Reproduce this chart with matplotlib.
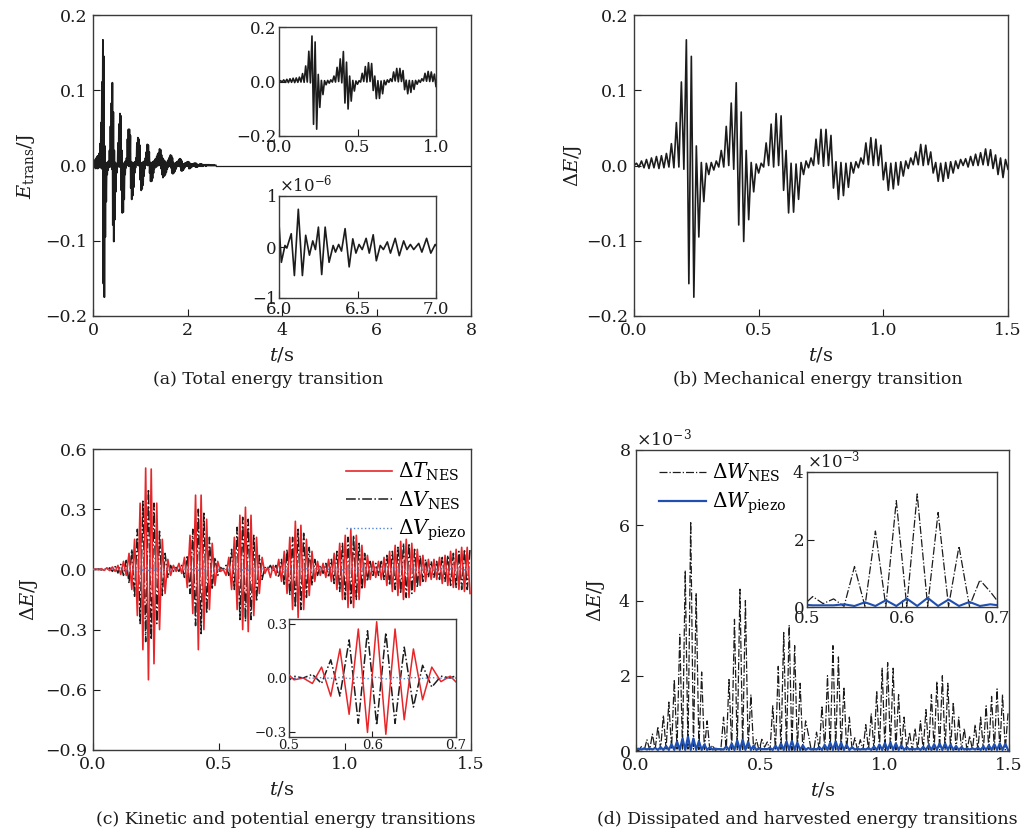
import numpy as np
import matplotlib
matplotlib.use("Agg")
import matplotlib.pyplot as plt
from matplotlib.ticker import FuncFormatter, ScalarFormatter, FixedLocator

plt.rcParams["font.family"] = ["DejaVu Serif"]
plt.rcParams["mathtext.fontset"] = "dejavuserif"
plt.rcParams["axes.unicode_minus"] = True

# ---------------------------------------------------------------------------
# Mechanical energy change dE (J): successive extrema, one every 0.01 s, 0-1.5 s
STEP_MECH = 0.01
DE_MECH = [
    0.000, 0.003, -0.002, 0.006, -0.003, 0.008, -0.004, 0.010, -0.003, 0.012,
    -0.004, 0.013, -0.003, 0.016, -0.002, 0.029, -0.003, 0.057, -0.002, 0.111,
    -0.005, 0.167, -0.157, 0.145, -0.175, 0.026, -0.095, 0.004, -0.048, 0.003,
    -0.012, 0.004, -0.006, 0.006, -0.002, 0.020, -0.002, 0.052, 0.000, 0.083,
    -0.005, 0.110, -0.079, 0.071, -0.101, 0.020, -0.072, 0.004, -0.035, 0.002,
    -0.010, 0.003, -0.002, 0.030, 0.000, 0.055, -0.002, 0.069, 0.000, 0.066,
    -0.033, 0.020, -0.063, 0.003, -0.062, 0.002, -0.045, 0.004, -0.012, 0.006,
    -0.003, 0.010, 0.000, 0.035, 0.002, 0.048, -0.001, 0.048, 0.000, 0.040,
    -0.030, 0.005, -0.045, 0.004, -0.040, 0.003, -0.029, 0.004, -0.010, 0.005,
    -0.003, 0.010, 0.002, 0.030, 0.001, 0.037, 0.000, 0.035, 0.000, 0.027,
    -0.019, 0.004, -0.033, 0.003, -0.031, 0.004, -0.026, 0.005, -0.014, 0.006,
    -0.004, 0.010, 0.001, 0.018, 0.001, 0.028, 0.000, 0.027, 0.001, 0.018,
    -0.010, 0.004, -0.021, 0.003, -0.021, 0.004, -0.017, 0.005, -0.010, 0.006,
    -0.004, 0.008, 0.000, 0.009, -0.002, 0.012, 0.000, 0.015, 0.000, 0.017,
    0.001, 0.022, 0.000, 0.021, -0.004, 0.014, -0.012, 0.010, -0.016, 0.008,
    -0.005,
]
# Continuation of the same record from 1.51 s to 2.60 s (0.01 s spacing)
E_TAIL = [
    -0.014, 0.006, -0.012, 0.004, -0.009, 0.003, -0.005, 0.006, -0.002, 0.008,
    0.000, 0.011, -0.001, 0.014, -0.003, 0.013, -0.010, 0.010, -0.011, 0.004,
    -0.010, 0.002, -0.008, 0.003, -0.005, 0.004, -0.002, 0.005, -0.001, 0.006,
    0.000, 0.008, -0.001, 0.009, -0.002, 0.008, -0.007, 0.006, -0.007, 0.002,
    -0.006, 0.002, -0.004, 0.003, -0.002, 0.003, -0.001, 0.004, 0.000, 0.005,
    -0.001, 0.005, -0.004, 0.004, -0.004, 0.002, -0.003, 0.002, -0.002, 0.002,
    -0.001, 0.002, 0.000, 0.003, -0.001, 0.003, -0.002, 0.003, -0.002, 0.002,
    -0.002, 0.001, -0.001, 0.001, 0.000, 0.002, -0.001, 0.002, -0.001, 0.002,
    -0.001, 0.001, -0.001, 0.001, 0.000, 0.001, 0.000, 0.001, -0.001, 0.001,
    0.000, 0.001, 0.000, 0.001, 0.000, 0.001, 0.000, 0.0005, 0.000, 0.0005,
    0.000, 0.0005, 0.000, 0.0005, 0.000, 0.0005, 0.000, 0.0005, 0.000, 0.000,
]
QUIET_T = [2.61, 8.0]
QUIET_V = [0.0, 0.0]

# Residual total energy between 6 s and 7 s (units of 1e-6 J)
LATE_T = [6.000, 6.015, 6.038, 6.050, 6.078, 6.098, 6.123, 6.149, 6.170, 6.194,
          6.215, 6.232, 6.251, 6.272, 6.294, 6.319, 6.345, 6.360, 6.380, 6.398,
          6.421, 6.447, 6.470, 6.490, 6.510, 6.530, 6.555, 6.575, 6.600, 6.620,
          6.645, 6.665, 6.690, 6.710, 6.740, 6.766, 6.794, 6.815, 6.837, 6.858,
          6.890, 6.910, 6.940, 6.967, 6.995, 7.000]
LATE_V = [0.46, -0.30, 0.03, -0.02, 0.26, -0.56, 0.74, -0.56, 0.23, -0.16,
          0.12, -0.05, 0.39, -0.54, 0.39, -0.30, 0.03, -0.10, 0.05, -0.08,
          0.36, -0.39, 0.16, -0.12, 0.05, -0.05, 0.17, -0.12, 0.24, -0.27,
          0.03, -0.05, 0.10, -0.12, 0.17, -0.17, 0.12, -0.05, 0.05, -0.05,
          0.07, -0.10, 0.17, -0.12, 0.05, 0.03]

# ---------------------------------------------------------------------------
# Kinetic / potential energy changes (J), extrema every 0.011 s
STEP_NES = 0.011
DT_NES = [
    0.000, 0.002, -0.002, 0.004, -0.005, 0.008, -0.006, 0.012, -0.010, 0.020,
    -0.025, 0.040, -0.030, 0.080, -0.100, 0.150, -0.230, 0.330, -0.400, 0.505,
    -0.550, 0.500, -0.470, 0.330, -0.300, 0.150, -0.120, 0.050, -0.030, 0.020,
    -0.010, 0.030, -0.020, 0.060, -0.090, 0.170, -0.220, 0.370, -0.400, 0.370,
    -0.300, 0.250, -0.200, 0.130, -0.080, 0.040, -0.010, 0.000, -0.030, 0.060,
    -0.100, 0.160, -0.200, 0.270, -0.300, 0.310, -0.310, 0.270, -0.230, 0.160,
    -0.120, 0.060, -0.020, 0.010, -0.040, 0.020, -0.030, 0.050, -0.060, 0.090,
    -0.120, 0.160, -0.200, 0.240, -0.240, 0.220, -0.200, 0.150, -0.130, 0.090,
    -0.060, 0.040, -0.030, 0.030, -0.040, 0.050, -0.060, 0.080, -0.100, 0.130,
    -0.150, 0.170, -0.190, 0.200, -0.190, 0.170, -0.150, 0.120, -0.090, 0.070,
    -0.050, 0.040, -0.040, 0.040, -0.050, 0.060, -0.080, 0.090, -0.110, 0.120,
    -0.130, 0.140, -0.150, 0.150, -0.140, 0.130, -0.110, 0.100, -0.080, 0.070,
    -0.060, 0.050, -0.050, 0.050, -0.050, 0.060, -0.070, 0.070, -0.080, 0.090,
    -0.090, 0.100, -0.100, 0.110, -0.110, 0.110, -0.120,
]
DV_NES = [
    0.000, -0.001, 0.002, -0.003, 0.004, -0.006, 0.008, -0.010, 0.014, -0.018,
    0.025, -0.030, 0.045, -0.070, 0.100, -0.140, 0.200, -0.270, 0.340, -0.360,
    0.400, -0.350, 0.330, -0.270, 0.190, -0.130, 0.080, -0.040, 0.020, -0.010,
    0.010, -0.010, 0.020, -0.040, 0.070, -0.120, 0.200, -0.280, 0.300, -0.320,
    0.280, -0.220, 0.160, -0.100, 0.060, -0.030, 0.010, 0.000, 0.020, -0.030,
    0.100, -0.100, 0.210, -0.250, 0.260, -0.260, 0.250, -0.250, 0.170, -0.160,
    0.070, -0.050, 0.010, 0.000, 0.020, -0.010, 0.020, -0.040, 0.050, -0.080,
    0.100, -0.130, 0.160, -0.190, 0.200, -0.200, 0.180, -0.140, 0.110, -0.080,
    0.050, -0.030, 0.020, -0.020, 0.030, -0.040, 0.050, -0.070, 0.090, -0.110,
    0.130, -0.150, 0.160, -0.170, 0.170, -0.150, 0.130, -0.100, 0.080, -0.060,
    0.040, -0.030, 0.030, -0.030, 0.040, -0.050, 0.070, -0.080, 0.090, -0.100,
    0.110, -0.120, 0.130, -0.140, 0.130, -0.120, 0.100, -0.090, 0.070, -0.060,
    0.050, -0.040, 0.040, -0.040, 0.040, -0.050, 0.060, -0.060, 0.070, -0.080,
    0.080, -0.090, 0.090, -0.100, 0.100, -0.100, 0.100,
]
DV_PIEZO = [
    0.000, 0.000, 0.000, 0.000, 0.000, 0.000, 0.000, 0.001, -0.001, 0.001,
    -0.001, 0.002, -0.002, 0.003, -0.003, 0.004, -0.004, 0.005, -0.005, 0.006,
    -0.006, 0.006, -0.005, 0.004, -0.004, 0.003, -0.002, 0.002, -0.001, 0.001,
    -0.001, 0.001, -0.001, 0.002, -0.002, 0.003, -0.003, 0.004, -0.005, 0.005,
    -0.004, 0.004, -0.003, 0.002, -0.002, 0.001, -0.001, 0.001, -0.001, 0.002,
    -0.002, 0.003, -0.003, 0.004, -0.004, 0.005, -0.005, 0.004, -0.004, 0.003,
    -0.002, 0.002, -0.001, 0.001, -0.001, 0.001, -0.001, 0.001, -0.002, 0.002,
    -0.003, 0.003, -0.004, 0.004, -0.004, 0.004, -0.003, 0.003, -0.002, 0.002,
    -0.001, 0.001, -0.001, 0.001, -0.001, 0.001, -0.002, 0.002, -0.002, 0.003,
    -0.003, 0.003, -0.003, 0.004, -0.003, 0.003, -0.003, 0.002, -0.002, 0.002,
    -0.001, 0.001, -0.001, 0.001, -0.001, 0.002, -0.002, 0.002, -0.002, 0.003,
    -0.003, 0.003, -0.003, 0.003, -0.003, 0.003, -0.002, 0.002, -0.002, 0.002,
    -0.001, 0.001, -0.001, 0.001, -0.001, 0.002, -0.002, 0.002, -0.002, 0.002,
    -0.002, 0.003, -0.003, 0.003, -0.003, 0.003, -0.003,
]

# Dissipated / harvested energy (units of 1e-3 J), same 0.011 s spacing
DW_NES = [
    0.03, 0.01, 0.12, 0.02, 0.30, 0.03, 0.45, 0.04, 0.65, 0.05,
    0.95, 0.05, 1.30, 0.05, 1.90, 0.05, 3.10, 0.05, 4.80, 0.05,
    6.10, 0.05, 4.20, 0.04, 2.10, 0.04, 0.80, 0.03, 0.15, 0.02,
    0.05, 0.02, 0.90, 0.03, 1.90, 0.04, 3.50, 0.04, 4.30, 0.04,
    4.00, 0.04, 1.50, 0.03, 0.30, 0.02, 0.31, 0.10, 0.24, 0.02,
    1.20, 0.02, 2.25, 0.02, 3.15, 0.02, 3.35, 0.02, 2.80, 0.02,
    1.80, 0.02, 0.80, 0.45, 0.05, 0.02, 0.50, 0.03, 1.20, 0.03,
    2.00, 0.03, 2.80, 0.03, 2.50, 0.03, 1.70, 0.03, 0.90, 0.03,
    0.35, 0.02, 0.30, 0.03, 0.70, 0.03, 1.00, 0.03, 1.60, 0.03,
    2.20, 0.03, 2.35, 0.03, 2.20, 0.03, 1.50, 0.03, 0.90, 0.03,
    0.50, 0.02, 0.60, 0.03, 0.80, 0.03, 1.10, 0.03, 1.50, 0.03,
    1.85, 0.03, 2.00, 0.03, 1.80, 0.03, 1.30, 0.03, 0.90, 0.03,
    0.60, 0.02, 0.40, 0.03, 0.70, 0.03, 0.90, 0.03, 1.20, 0.03,
    1.45, 0.03, 1.65, 0.03, 1.50, 0.03, 1.00,
]
DW_PIEZO = [
    0.05, 0.06, 0.04, 0.07, 0.04, 0.07, 0.04, 0.08, 0.03, 0.10,
    0.03, 0.13, 0.03, 0.18, 0.03, 0.25, 0.03, 0.33, 0.03, 0.38,
    0.03, 0.33, 0.03, 0.26, 0.03, 0.17, 0.03, 0.10, 0.04, 0.06,
    0.05, 0.05, 0.04, 0.12, 0.03, 0.20, 0.03, 0.28, 0.03, 0.30,
    0.03, 0.24, 0.03, 0.14, 0.03, 0.07, 0.05, 0.05, 0.05, 0.08,
    0.03, 0.14, 0.03, 0.20, 0.03, 0.25, 0.03, 0.27, 0.03, 0.22,
    0.03, 0.15, 0.03, 0.08, 0.04, 0.06, 0.04, 0.10, 0.03, 0.16,
    0.03, 0.22, 0.03, 0.25, 0.03, 0.22, 0.03, 0.16, 0.03, 0.10,
    0.04, 0.06, 0.04, 0.06, 0.04, 0.08, 0.03, 0.12, 0.03, 0.17,
    0.03, 0.21, 0.03, 0.22, 0.03, 0.20, 0.03, 0.15, 0.03, 0.10,
    0.04, 0.07, 0.04, 0.08, 0.03, 0.11, 0.03, 0.15, 0.03, 0.18,
    0.03, 0.20, 0.03, 0.20, 0.03, 0.17, 0.03, 0.13, 0.03, 0.10,
    0.04, 0.07, 0.04, 0.07, 0.04, 0.09, 0.03, 0.12, 0.03, 0.15,
    0.03, 0.18, 0.03, 0.20, 0.03, 0.19, 0.03,
]

CAPTIONS = ["(a) Total energy transition",
            "(b) Mechanical energy transition",
            "(c) Kinetic and potential energy transitions",
            "(d) Dissipated and harvested energy transitions"]

INK = "#1c1c1c"
RED = "#e8262a"
BLUE = "#1f4fb0"
LIGHT_BLUE = "#4f86d8"


def grid(values, step):
    return np.arange(len(values)) * step


def decimals(n):
    def f(v, _):
        if abs(v) < 1e-12:
            v = 0.0
        return f"{v:.{n}f}".replace("-", "\u2212")
    return FuncFormatter(f)


def style(ax, size=12.5, pad=4, length=5):
    ax.tick_params(direction="in", length=length, width=0.8, top=False,
                   right=False, labelsize=size, pad=pad, colors=INK)
    for s in ax.spines.values():
        s.set_linewidth(1.0)
        s.set_color("#3a3a3a")


def sci(ax, size):
    fm = ScalarFormatter(useMathText=True)
    fm.set_powerlimits((0, 0))
    ax.yaxis.set_major_formatter(fm)
    ax.yaxis.get_offset_text().set_fontsize(size)
    ax.yaxis.get_offset_text().set_color(INK)


def labels(ax, ylabel, ypad=5):
    ax.set_xlabel(r"$t$/s", fontsize=14, labelpad=5, color=INK)
    ax.set_ylabel(ylabel, fontsize=14, labelpad=ypad, color=INK)


W, H = 1029, 833
fig = plt.figure(figsize=(W / 100, H / 100), dpi=100)


def box(x0, y0, x1, y1):
    return [x0 / W, 1 - y1 / H, (x1 - x0) / W, (y1 - y0) / H]


t_mech = grid(DE_MECH, STEP_MECH)
t_long = grid(DE_MECH + E_TAIL, STEP_MECH)
t_nes = grid(DT_NES, STEP_NES)

# ---------------- (a) total energy ----------------
ax = fig.add_axes(box(93, 15, 471, 316))
ax.plot(t_long, DE_MECH + E_TAIL, color=INK, lw=1.3)
ax.plot(QUIET_T, QUIET_V, color=INK, lw=0.9)
ax.set_xlim(0, 8)
ax.set_ylim(-0.2, 0.2)
ax.xaxis.set_major_locator(FixedLocator([0, 2, 4, 6, 8]))
ax.yaxis.set_major_locator(FixedLocator([-0.2, -0.1, 0.0, 0.1, 0.2]))
ax.xaxis.set_major_formatter(decimals(0))
ax.yaxis.set_major_formatter(decimals(1))
style(ax)
labels(ax, r"$E_{\rm trans}$/J", ypad=6)

ia = fig.add_axes(box(279, 27, 436, 136))
ia.plot(t_mech, DE_MECH, color=INK, lw=1.2)
ia.set_xlim(0, 1)
ia.set_ylim(-0.2, 0.2)
ia.xaxis.set_major_locator(FixedLocator([0.0, 0.5, 1.0]))
ia.yaxis.set_major_locator(FixedLocator([-0.2, 0.0, 0.2]))
ia.xaxis.set_major_formatter(decimals(1))
ia.yaxis.set_major_formatter(decimals(1))
style(ia, size=12, pad=2)

ib = fig.add_axes(box(279, 196, 436, 298))
ib.plot(LATE_T, np.array(LATE_V) * 1e-6, color=INK, lw=1.2)
ib.set_xlim(6, 7)
ib.set_ylim(-1e-6, 1e-6)
ib.xaxis.set_major_locator(FixedLocator([6.0, 6.5, 7.0]))
ib.yaxis.set_major_locator(FixedLocator([-1e-6, 0.0, 1e-6]))
ib.xaxis.set_major_formatter(decimals(1))
style(ib, size=12, pad=2)
sci(ib, 12)

# ---------------- (b) mechanical energy ----------------
ax = fig.add_axes(box(634, 15, 1008, 316))
ax.plot(t_mech, DE_MECH, color=INK, lw=1.2)
ax.set_xlim(0, 1.5)
ax.set_ylim(-0.2, 0.2)
ax.xaxis.set_major_locator(FixedLocator([0.0, 0.5, 1.0, 1.5]))
ax.yaxis.set_major_locator(FixedLocator([-0.2, -0.1, 0.0, 0.1, 0.2]))
ax.xaxis.set_major_formatter(decimals(1))
ax.yaxis.set_major_formatter(decimals(1))
style(ax)
labels(ax, r"$\Delta E$/J", ypad=2)

# ---------------- (c) kinetic and potential energy ----------------
ax = fig.add_axes(box(93, 449, 471, 750))
l_v, = ax.plot(t_nes, DV_NES, color=INK, lw=1.1, ls="-.", zorder=2)
l_t, = ax.plot(t_nes, DT_NES, color=RED, lw=1.2, zorder=3)
l_p, = ax.plot(grid(DV_PIEZO, STEP_NES), DV_PIEZO, color=LIGHT_BLUE, lw=1.0,
               ls=":", zorder=4)
ax.set_xlim(0, 1.5)
ax.set_ylim(-0.9, 0.6)
ax.xaxis.set_major_locator(FixedLocator([0.0, 0.5, 1.0, 1.5]))
ax.yaxis.set_major_locator(FixedLocator([-0.9, -0.6, -0.3, 0.0, 0.3, 0.6]))
ax.xaxis.set_major_formatter(decimals(1))
ax.yaxis.set_major_formatter(decimals(1))
style(ax)
labels(ax, r"$\Delta E$/J", ypad=4)
ax.legend([l_t, l_v, l_p],
          [r"$\Delta T_{\rm NES}$", r"$\Delta V_{\rm NES}$", r"$\Delta V_{\rm piezo}$"],
          loc="upper right", bbox_to_anchor=(1.02, 1.0), frameon=False,
          fontsize=14.5, handlelength=2.3, handletextpad=0.3, labelspacing=0.3,
          borderaxespad=0.2)

ic = fig.add_axes(box(289, 619, 456, 737))
ic.plot(t_nes, DV_NES, color=INK, lw=1.1, ls="-.", zorder=2)
ic.plot(t_nes, DT_NES, color=RED, lw=1.1, zorder=3)
ic.plot(grid(DV_PIEZO, STEP_NES), DV_PIEZO, color=LIGHT_BLUE, lw=1.0, ls=":",
        zorder=4)
ic.set_xlim(0.5, 0.7)
ic.set_ylim(-0.325, 0.325)
ic.xaxis.set_major_locator(FixedLocator([0.5, 0.6, 0.7]))
ic.yaxis.set_major_locator(FixedLocator([-0.3, 0.0, 0.3]))
ic.xaxis.set_major_formatter(decimals(1))
ic.yaxis.set_major_formatter(decimals(1))
style(ic, size=9.5, pad=1.5, length=4)

# ---------------- (d) dissipated and harvested energy ----------------
ax = fig.add_axes(box(636, 450, 1009, 751))
l_w, = ax.plot(t_nes, np.array(DW_NES) * 1e-3, color=INK, lw=0.9, ls="-.")
l_h, = ax.plot(grid(DW_PIEZO, STEP_NES), np.array(DW_PIEZO) * 1e-3,
               color=BLUE, lw=1.6)
ax.set_xlim(0, 1.5)
ax.set_ylim(0, 8e-3)
ax.xaxis.set_major_locator(FixedLocator([0.0, 0.5, 1.0, 1.5]))
ax.yaxis.set_major_locator(FixedLocator([0, 2e-3, 4e-3, 6e-3, 8e-3]))
ax.xaxis.set_major_formatter(decimals(1))
style(ax)
sci(ax, 12.5)
labels(ax, r"$\Delta E$/J", ypad=8)
ax.legend([l_w, l_h], [r"$\Delta W_{\rm NES}$", r"$\Delta W_{\rm piezo}$"],
          loc="upper left", bbox_to_anchor=(0.03, 1.0), frameon=False,
          fontsize=14.5, handlelength=2.3, handletextpad=0.3, labelspacing=0.3,
          borderaxespad=0.2)

idd = fig.add_axes(box(807, 472, 997, 607))
idd.plot(t_nes, np.array(DW_NES) * 1e-3, color=INK, lw=0.9, ls="-.")
idd.plot(grid(DW_PIEZO, STEP_NES), np.array(DW_PIEZO) * 1e-3, color=BLUE, lw=1.5)
idd.set_xlim(0.5, 0.7)
idd.set_ylim(0, 4e-3)
idd.xaxis.set_major_locator(FixedLocator([0.5, 0.6, 0.7]))
idd.yaxis.set_major_locator(FixedLocator([0, 2e-3, 4e-3]))
idd.xaxis.set_major_formatter(decimals(1))
style(idd, size=12, pad=2)
sci(idd, 12)

# ---------------- captions ----------------
for (x, y), text in zip([(268, 380), (818, 380), (286, 820), (807, 820)], CAPTIONS):
    fig.text(x / W, 1 - y / H, text, ha="center", va="center", fontsize=12.5,
             color=INK)

fig.savefig("out.png", dpi=100)
